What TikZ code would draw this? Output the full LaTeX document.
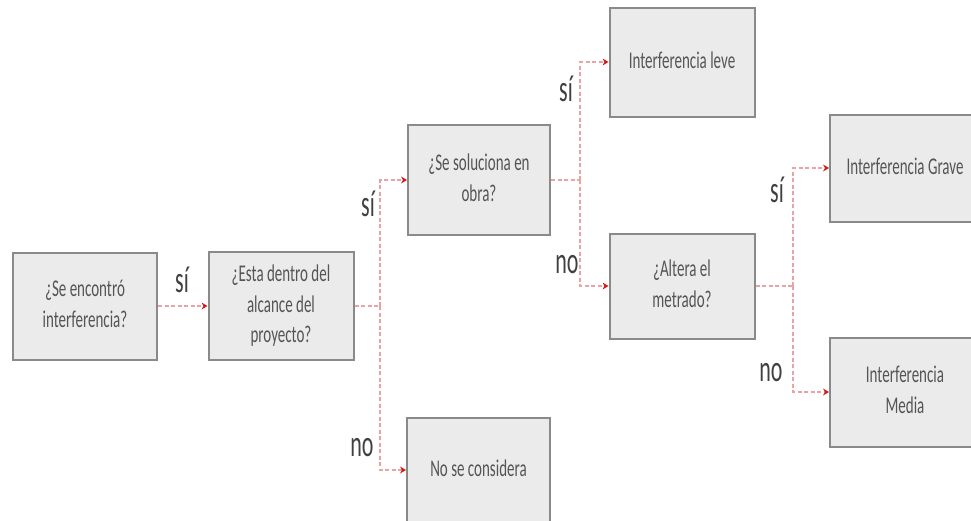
\documentclass[tikz,border=0pt]{standalone}
\usepackage{fontspec}
\setmainfont{Carlito}
\usetikzlibrary{arrows.meta}
\definecolor{boxfill}{HTML}{EBEBEB}
\definecolor{boxdraw}{HTML}{8A8A8A}
\definecolor{connc}{HTML}{E9A3A3}
\definecolor{tipc}{HTML}{D01818}
\definecolor{txtc}{HTML}{555555}
\definecolor{lblc}{HTML}{404040}
\newcommand\tx[1]{\scalebox{1}[1.6]{\begin{tabular}{@{}c@{}}#1\end{tabular}}}
\newcommand\lb[1]{\scalebox{1}[1.7]{#1}}
\tikzset{
  box/.style={draw=boxdraw, fill=boxfill, line width=2pt, inner sep=0pt,
    text=txtc, font=\fontsize{15}{19}\selectfont, align=center},
  conn/.style={draw=connc, line width=2.2pt, dash pattern=on 4pt off 2.5pt,
    -{Stealth[length=6pt,width=7pt,color=tipc,line width=0pt]}},
  connp/.style={draw=connc, line width=2.2pt, dash pattern=on 4pt off 2.5pt},
  lbl/.style={text=lblc, font=\fontsize{22}{22}\selectfont, inner sep=0pt}
}
\begin{document}
\begin{tikzpicture}[x=1pt,y=-1pt]
\clip (0,0) rectangle (971,520);
\fill[white] (0,0) rectangle (971,520);
\node[box, minimum width=144pt, minimum height=107pt] (A) at (85,306) {\tx{¿Se encontró\\interferencia?}};
\node[box, minimum width=145pt, minimum height=108pt] (B) at (281,306) {\tx{¿Esta dentro del\\alcance del\\proyecto?}};
\node[box, minimum width=142pt, minimum height=110pt] (C) at (479,180) {\tx{¿Se soluciona en\\obra?}};
\node[box, minimum width=145pt, minimum height=109pt] (D) at (682,62) {\tx{Interferencia leve}};
\node[box, minimum width=145pt, minimum height=105pt] (E) at (682,286) {\tx{¿Altera el\\metrado?}};
\node[box, minimum width=150pt, minimum height=107pt] (F) at (905,168) {\tx{Interferencia Grave}};
\node[box, minimum width=150pt, minimum height=109pt] (G) at (905,392) {\tx{Interferencia\\Media}};
\node[box, minimum width=143pt, minimum height=104pt] (H) at (478.5,470) {\tx{No se considera}};

\coordinate (b1) at (380,306);
\coordinate (c1) at (580,180);
\coordinate (e1) at (793,286);

\draw[conn] (A.east) -- (B.west);
\draw[connp] (B.east) -- (b1);
\draw[conn] (b1) |- (C.west);
\draw[conn] (b1) |- (H.west);
\draw[connp] (C.east) -- (c1);
\draw[conn] (c1) |- (D.west);
\draw[conn] (c1) |- (E.west);
\draw[connp] (E.east) -- (e1);
\draw[conn] (e1) |- (F.west);
\draw[conn] (e1) |- (G.west);

\node[lbl] (l1) at (182,280) {\lb{sí}};
\node[lbl] (l2) at (368,204) {\lb{sí}};
\node[lbl] (l3) at (362,448) {\lb{no}};
\node[lbl] (l4) at (566,89) {\lb{sí}};
\node[lbl] (l5) at (567,265) {\lb{no}};
\node[lbl] (l6) at (777,190) {\lb{sí}};
\node[lbl] (l7) at (771,373) {\lb{no}};
\end{tikzpicture}
\end{document}
